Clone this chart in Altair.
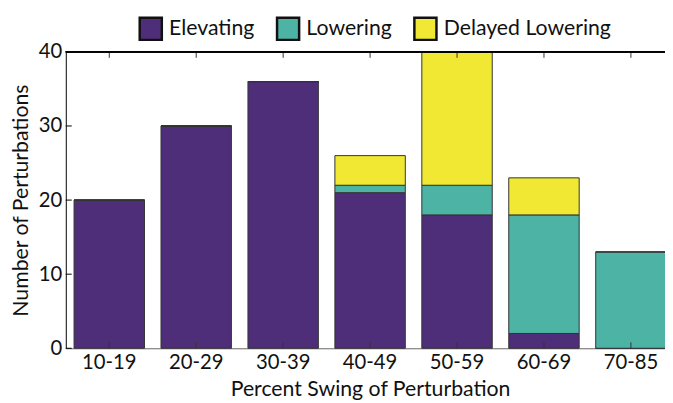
import altair as alt
import pandas as pd

categories = ["10-19", "20-29", "30-39", "40-49", "50-59", "60-69", "70-85"]
series = ["Elevating", "Lowering", "Delayed Lowering"]
elevating = [20, 30, 36, 21, 18, 2, 0]
lowering = [0, 0, 0, 1, 4, 16, 13]
delayed = [0, 0, 0, 4, 18, 5, 0]
y_ticks = [0, 10, 20, 30, 40]
colors = ["#4F2E79", "#4DB3A5", "#F0E833"]

rows = []
for i, c in enumerate(categories):
    for k, (s, vals) in enumerate(zip(series, [elevating, lowering, delayed])):
        rows.append({"cat": c, "series": s, "order": k, "value": vals[i]})
df = pd.DataFrame(rows)
cat_df = pd.DataFrame({"cat": categories})
ytick_df = pd.DataFrame({"v": y_ticks})

FONT = "Lato"
W, H = 616, 300

xscale = alt.Scale(domain=categories, paddingInner=0.19, paddingOuter=0.095)
yscale = alt.Scale(domain=[0, 40], nice=False)

bars = alt.Chart(df).mark_bar(stroke="#333333", strokeWidth=1).encode(
    x=alt.X("cat:N", scale=xscale, sort=categories,
            axis=alt.Axis(title="Percent Swing of Perturbation", labelAngle=0, ticks=False,
                          domainColor="#666666", labelPadding=4,
                          titleBaseline="alphabetic", titleY=48)),
    y=alt.Y("value:Q", scale=yscale, stack="zero",
            axis=alt.Axis(title="Number of Perturbations", values=y_ticks, ticks=False,
                          grid=False, domainColor="#000000", labelPadding=4, titlePadding=6)),
    color=alt.Color("series:N", scale=alt.Scale(domain=series, range=colors),
                    legend=alt.Legend(title=None, orient="none", direction="horizontal",
                                      legendX=73.5, legendY=-36, symbolType="square",
                                      symbolSize=500, symbolStrokeColor="#111111",
                                      symbolStrokeWidth=2.5, symbolOpacity=1,
                                      labelFontSize=21.5, labelFont=FONT, labelColor="#111111",
                                      labelOffset=6, columnPadding=17, labelLimit=400)),
    order=alt.Order("order:Q"),
)

bottom_ticks = alt.Chart(cat_df).mark_rule(color="#333333", strokeWidth=1).encode(
    x=alt.X("cat:N", scale=xscale, sort=categories),
    y=alt.value(H), y2=alt.value(H - 6),
)
top_ticks = alt.Chart(cat_df).mark_rule(color="#333333", strokeWidth=1).encode(
    x=alt.X("cat:N", scale=xscale, sort=categories),
    y=alt.value(0), y2=alt.value(6),
)
left_ticks = alt.Chart(ytick_df).mark_rule(color="#000000", strokeWidth=1).encode(
    y=alt.Y("v:Q", scale=yscale),
    x=alt.value(0), x2=alt.value(6),
)
top_border = alt.Chart(cat_df).mark_rule(color="#000000", strokeWidth=1).encode(
    x=alt.value(0), x2=alt.value(W), y=alt.value(0),
)

chart = alt.layer(bars, bottom_ticks, top_ticks, left_ticks, top_border).properties(
    width=W, height=H,
    autosize=alt.AutoSizeParams(type="none"),
    padding={"left": 58.5, "top": 42, "right": -9.5, "bottom": 55},
).configure_view(stroke=None).configure_axis(
    labelFont=FONT, titleFont=FONT, labelFontSize=20.5, titleFontSize=21.5,
    labelColor="#111111", titleColor="#111111", titleFontWeight="normal", domainWidth=1,
)

chart.save("out.html", embed_options={"renderer": "svg", "actions": False})
